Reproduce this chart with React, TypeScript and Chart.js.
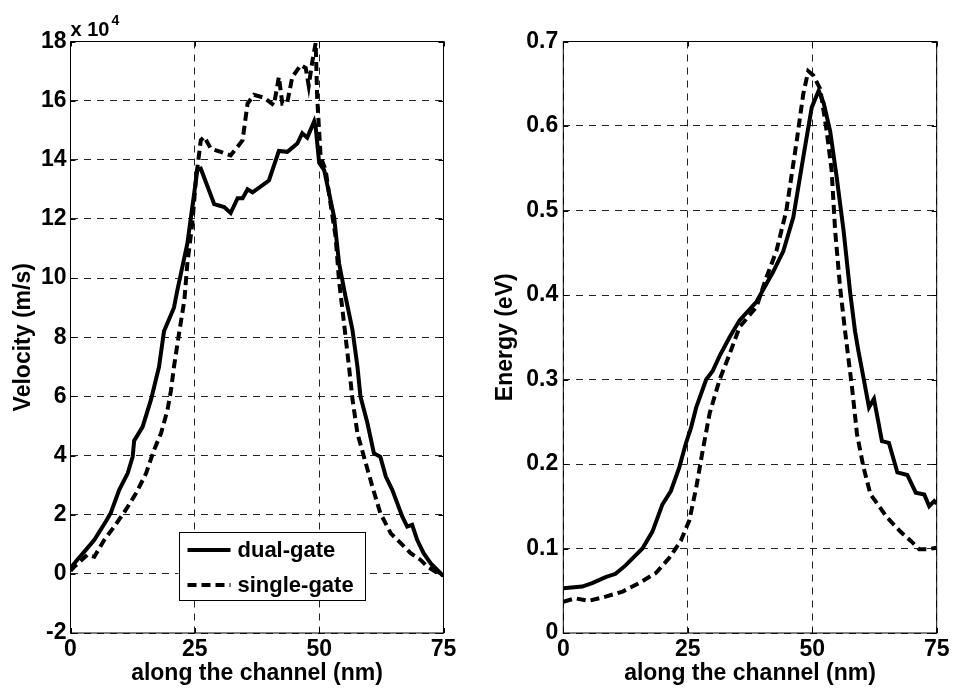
import { useEffect, useRef } from "react";
import { Chart, registerables } from "chart.js";

Chart.register(...registerables);

const FONT = "'Liberation Sans', Arial, Helvetica, sans-serif";

// ---------- Data (x in nm) ----------
// Velocity, in units of 10^4 m/s
const velDualX = [0, 1.5, 3.4, 4.8, 7.1, 8.1, 9.8, 11.5, 12.5, 12.8, 14.5, 16.2, 17.8, 18.8, 20.8, 21.5, 23.5, 25.5, 26.2, 28.9, 30.9, 32.2, 33.6, 34.6, 35.6, 36.6, 39.9, 41.9, 43.6, 45.6, 46.6, 47.6, 49.0, 49.3, 50.0, 51.0, 53.0, 54.0, 55.3, 56.7, 57.7, 58.3, 59.7, 61.0, 62.3, 63.4, 64.7, 65.7, 66.7, 67.7, 68.7, 69.7, 71.0, 72.4, 74.7, 75];
const velDualY = [0.2, 0.5, 0.87, 1.15, 1.77, 2.06, 2.84, 3.4, 3.96, 4.5, 4.97, 5.9, 7.0, 8.2, 9.0, 9.6, 11.17, 13.65, 13.7, 12.5, 12.4, 12.2, 12.7, 12.7, 13.0, 12.9, 13.3, 14.3, 14.27, 14.55, 14.9, 14.75, 15.3, 15.1, 13.9, 13.65, 12.07, 10.5, 9.37, 8.24, 7.0, 6.0, 5.1, 4.08, 3.96, 3.29, 2.84, 2.39, 1.94, 1.6, 1.66, 1.15, 0.7, 0.36, -0.03, -0.05];

const velSingleX = [0, 0.8, 3.4, 4.8, 6.8, 8.8, 11.1, 13.2, 15.2, 16.8, 18.2, 19.5, 20.2, 20.8, 21.8, 22.9, 23.5, 24.5, 25.2, 26.2, 26.9, 28.2, 30.2, 32.2, 33.6, 34.6, 35.6, 36.9, 38.9, 40.9, 41.9, 42.6, 43.6, 44.6, 46.3, 47.3, 47.9, 48.6, 49.3, 49.6, 50.3, 51.3, 52.3, 53.3, 54.0, 55.0, 56.0, 56.7, 57.7, 59.0, 60.7, 62.3, 64.4, 66.4, 68.4, 70.4, 71.7, 74.4, 75];
const velSingleY = [0.1, 0.25, 0.64, 0.58, 1.15, 1.6, 2.16, 2.73, 3.4, 4.19, 4.75, 5.54, 6.2, 7.0, 8.1, 9.26, 10.5, 11.85, 13.3, 14.66, 14.78, 14.38, 14.27, 14.15, 14.44, 14.66, 15.9, 16.2, 16.1, 15.85, 16.8, 15.9, 15.95, 16.8, 17.2, 17.1, 16.5, 17.3, 17.95, 16.1, 14.1, 13.65, 12.5, 11.4, 9.9, 8.47, 7.0, 5.9, 4.75, 3.96, 2.95, 2.05, 1.37, 1.04, 0.7, 0.47, 0.25, -0.03, -0.05];

// Energy, eV
const enDualX = [0, 3.8, 5.8, 8.5, 10.5, 12.5, 15.9, 17.9, 19.9, 21.6, 23.3, 24.6, 25.7, 26.7, 28.7, 30.0, 31.4, 33.4, 35.4, 38.8, 42.2, 44.2, 46.2, 48.2, 49.9, 51.3, 52.3, 53.6, 54.9, 56.3, 57.6, 58.6, 59.3, 60.3, 61.4, 62.4, 64.0, 65.4, 67.1, 69.1, 70.8, 72.5, 73.5, 74.5, 75];
const enDualY = [0.053, 0.055, 0.059, 0.066, 0.070, 0.080, 0.100, 0.120, 0.152, 0.168, 0.196, 0.224, 0.244, 0.267, 0.300, 0.310, 0.328, 0.350, 0.370, 0.392, 0.428, 0.452, 0.492, 0.563, 0.622, 0.642, 0.627, 0.594, 0.540, 0.476, 0.404, 0.357, 0.333, 0.302, 0.267, 0.277, 0.227, 0.225, 0.190, 0.187, 0.166, 0.164, 0.150, 0.156, 0.153];

const enSingleX = [0, 2.4, 5.1, 8.5, 11.9, 15.2, 18.6, 21.3, 23.6, 25.3, 26.7, 28.0, 29.4, 31.4, 33.4, 35.4, 38.8, 40.8, 42.8, 44.8, 46.9, 48.2, 49.2, 50.2, 51.6, 52.9, 53.9, 54.6, 55.6, 56.6, 58.0, 59.0, 60.3, 61.7, 62.7, 65.0, 67.7, 69.8, 71.5, 73.1, 75];
const enSingleY = [0.037, 0.041, 0.038, 0.043, 0.049, 0.059, 0.071, 0.089, 0.109, 0.133, 0.172, 0.216, 0.260, 0.300, 0.330, 0.362, 0.386, 0.421, 0.452, 0.500, 0.583, 0.638, 0.665, 0.660, 0.644, 0.594, 0.547, 0.476, 0.409, 0.357, 0.290, 0.235, 0.196, 0.164, 0.156, 0.137, 0.120, 0.109, 0.099, 0.099, 0.101];

const seriesLabels = ["dual-gate", "single-gate"];
const xAxisTitle = "along the channel (nm)";
const velTitle = "Velocity (m/s)";
const enTitle = "Energy (eV)";

const pts = (xs: number[], ys: number[]) => xs.map((x, i) => ({ x, y: ys[i] }));

const font = (size: number) => ({ family: FONT, size, weight: "bold" as const });

// Frame box + inward ticks (MATLAB-like)
const framePlugin = {
  id: "frameBox",
  afterDatasetsDraw(chart: any) {
    const { ctx, chartArea: a, scales } = chart;
    ctx.save();
    ctx.setLineDash([]);
    ctx.strokeStyle = "#000";
    ctx.lineWidth = 1;
    ctx.strokeRect(a.left, a.top, a.right - a.left, a.bottom - a.top);
    const tl = 5;
    ctx.beginPath();
    scales.x.ticks.forEach((t: any) => {
      const p = Math.round(scales.x.getPixelForValue(t.value)) + 0.5;
      ctx.moveTo(p, a.bottom); ctx.lineTo(p, a.bottom - tl);
      ctx.moveTo(p, a.top); ctx.lineTo(p, a.top + tl);
    });
    scales.y.ticks.forEach((t: any) => {
      const p = Math.round(scales.y.getPixelForValue(t.value)) + 0.5;
      ctx.moveTo(a.left, p); ctx.lineTo(a.left + tl, p);
      ctx.moveTo(a.right, p); ctx.lineTo(a.right - tl, p);
    });
    ctx.stroke();
    ctx.restore();
  },
};

// Boxed legend inside the plot area (left plot only)
const boxLegendPlugin = {
  id: "boxLegend",
  afterDraw(chart: any, _args: any, opts: any) {
    if (!opts || !opts.show) return;
    const { ctx, chartArea: a } = chart;
    const bx = a.left + opts.dx;
    const by = a.bottom - opts.dy - opts.h;
    ctx.save();
    ctx.fillStyle = "#fff";
    ctx.fillRect(bx, by, opts.w, opts.h);
    ctx.strokeStyle = "#000";
    ctx.lineWidth = 1;
    ctx.setLineDash([]);
    ctx.strokeRect(Math.round(bx) + 0.5, Math.round(by) + 0.5, opts.w, opts.h);
    chart.data.datasets.forEach((ds: any, i: number) => {
      const y = by + opts.row0 + i * opts.rowGap;
      ctx.beginPath();
      ctx.strokeStyle = ds.borderColor;
      ctx.lineWidth = ds.borderWidth;
      ctx.setLineDash(ds.borderDash || []);
      ctx.moveTo(bx + 9, y);
      ctx.lineTo(bx + 52, y);
      ctx.stroke();
      ctx.setLineDash([]);
      ctx.fillStyle = "#000";
      ctx.font = `bold 22px ${FONT}`;
      ctx.textBaseline = "middle";
      ctx.textAlign = "left";
      ctx.fillText(ds.label, bx + 59, y + 1);
    });
    ctx.restore();
  },
};

// "x 10^4" multiplier label
const multiplierPlugin = {
  id: "multiplier",
  afterDraw(chart: any, _args: any, opts: any) {
    if (!opts || !opts.show) return;
    const { ctx, chartArea: a } = chart;
    ctx.save();
    ctx.fillStyle = "#000";
    ctx.textBaseline = "alphabetic";
    ctx.textAlign = "left";
    ctx.font = `bold 20px ${FONT}`;
    const base = "x 10";
    ctx.fillText(base, a.left, a.top - 6);
    const w = ctx.measureText(base).width;
    ctx.font = `bold 14px ${FONT}`;
    ctx.fillText("4", a.left + w + 2, a.top - 17);
    ctx.restore();
  },
};

function makeConfig(
  dual: { x: number; y: number }[],
  single: { x: number; y: number }[],
  yMin: number,
  yMax: number,
  yStep: number,
  yTitle: string,
  yAxisWidth: number,
  padRight: number,
  yTitlePad: number,
  yTickPad: number,
  isLeft: boolean
): any {
  return {
    type: "line",
    data: {
      datasets: [
        { label: seriesLabels[0], data: dual, borderColor: "#000", borderWidth: 4, pointRadius: 0, fill: false, tension: 0 },
        { label: seriesLabels[1], data: single, borderColor: "#000", borderWidth: 4, borderDash: [9, 5], pointRadius: 0, fill: false, tension: 0 },
      ],
    },
    options: {
      animation: false,
      responsive: false,
      maintainAspectRatio: false,
      layout: { padding: { top: 41.5, right: padRight, bottom: 0, left: 0 } },
      plugins: {
        legend: { display: false },
        tooltip: { enabled: false },
        boxLegend: { show: isLeft, dx: 108, dy: 33, w: 186, h: 68, row0: 18, rowGap: 35 },
        multiplier: { show: isLeft },
      },
      scales: {
        x: {
          type: "linear",
          min: 0,
          max: 75,
          ticks: { stepSize: 25, font: font(23), color: "#000", padding: 3, maxRotation: 0 },
          grid: { color: "#222", lineWidth: 1, drawTicks: false },
          border: { display: false, dash: [7, 6] },
          title: { display: true, text: xAxisTitle, font: font(23), color: "#000", padding: { top: 0, bottom: 5 } },
          afterFit: (s: any) => { s.height = 59; },
        },
        y: {
          type: "linear",
          min: yMin,
          max: yMax,
          ticks: {
            stepSize: yStep,
            font: font(23),
            color: "#000",
            padding: yTickPad,
            callback: (v: any) => {
              const n = Number(v);
              if (Math.abs(n) < 1e-9) return "0";
              return yStep < 1 ? n.toFixed(1) : String(Math.round(n));
            },
          },
          grid: { color: "#222", lineWidth: 1, drawTicks: false },
          border: { display: false, dash: [7, 6] },
          title: { display: true, text: yTitle, font: font(23), color: "#000", padding: { top: yTitlePad, bottom: 0 } },
          afterFit: (s: any) => { s.width = yAxisWidth; },
        },
      },
    },
    plugins: [framePlugin, boxLegendPlugin, multiplierPlugin],
  };
}

export default function App() {
  const leftRef = useRef<HTMLCanvasElement | null>(null);
  const rightRef = useRef<HTMLCanvasElement | null>(null);

  useEffect(() => {
    const c1 = new Chart(
      leftRef.current as HTMLCanvasElement,
      makeConfig(pts(velDualX, velDualY), pts(velSingleX, velSingleY), -2, 18, 2, velTitle, 70.5, 32.5, 10, 4, true)
    );
    const c2 = new Chart(
      rightRef.current as HTMLCanvasElement,
      makeConfig(pts(enDualX, enDualY), pts(enSingleX, enSingleY), 0, 0.7, 0.1, enTitle, 87.3, 16.3, 16.2, 5, false)
    );
    return () => {
      c1.destroy();
      c2.destroy();
    };
  }, []);

  return (
    <div style={{ position: "fixed", left: 0, top: 0, width: 953, height: 692, background: "#fff" }}>
      <canvas ref={leftRef} width={476} height={692} style={{ position: "absolute", left: 0, top: 0, width: 476, height: 692 }} />
      <canvas ref={rightRef} width={477} height={692} style={{ position: "absolute", left: 476, top: 0, width: 477, height: 692 }} />
    </div>
  );
}
